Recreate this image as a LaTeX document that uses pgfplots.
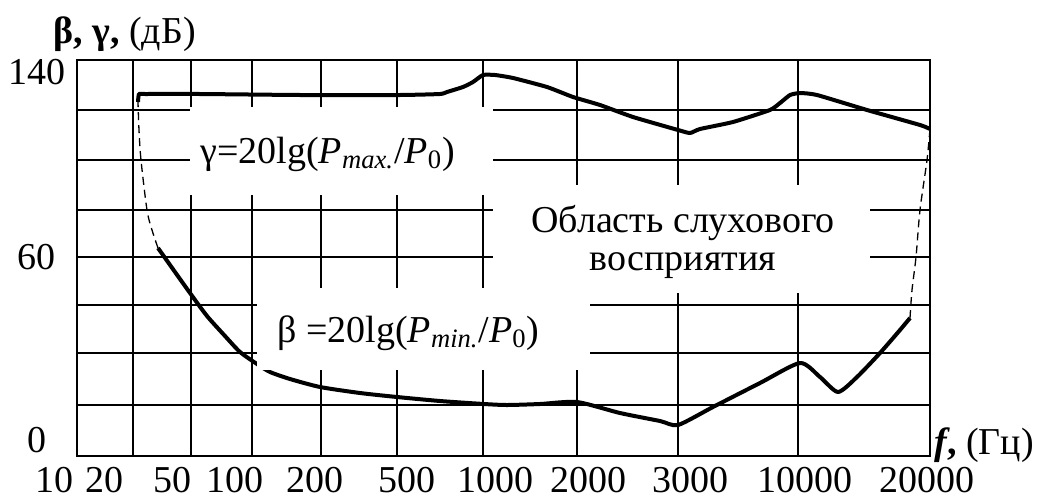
\documentclass[border=0pt]{standalone}
\usepackage{fontspec}
\setmainfont{Liberation Serif}
\usepackage{pgfplots}
\pgfplotsset{compat=1.18}

\newcommand{\fs}{\fontsize{19}{22}\selectfont}

\begin{document}
\begin{tikzpicture}
\begin{axis}[
  name=ax,
  scale only axis,
  width=426.5pt, height=198pt,
  xmin=77, xmax=930, ymin=0, ymax=396,
  clip=false,
  axis line style={line width=1pt},
  xtick={133,191,252,321,397,483,577,678,798},
  xticklabels={},
  ytick={51,103,151,199,246,296,346},
  yticklabels={},
  grid=major,
  major grid style={black, line width=0.85pt},
  major tick length=0pt,
  extra x ticks={77,105,172,235,315,407,495,588,690,805,927},
  extra x tick labels={\makebox[0pt][r]{10\hspace{1.75pt}},20,50,100,200,500,1000,2000,3000,10000,20000},
  extra y ticks={16,199,384},
  extra y tick labels={0,60,140},
  extra tick style={grid=none, major tick length=0pt},
  tick label style={font=\fs, inner sep=0pt},
  xticklabel style={anchor=center, yshift=-12pt},
  yticklabel style={anchor=center, xshift=-20pt},
]
% gamma, upper threshold
\addplot[black, line width=2pt, line join=round, smooth, tension=0.3] coordinates {
  (138,354) (139,362) (145,362) (200,362) (300,361) (400,361) (440,362)
  (447,364) (463,369) (473,374) (483,381) (495,381) (513,378) (547,369)
  (573,359) (600,351) (633,339) (678,326) (690,323) (700,327) (733,334)
  (770,346) (780,353) (790,361) (800,363) (817,361) (867,346) (920,331) (930,327)
};
% dashed closures
\addplot[black, line width=0.65pt, dash pattern=on 4pt off 2.5pt, smooth] coordinates {
  (158,208) (152,226) (147,246) (141,296) (139,326) (138,354)
};
\addplot[black, line width=0.65pt, dash pattern=on 4pt off 2.5pt, smooth] coordinates {
  (910,138) (912,166) (916,199) (920,246) (927,296) (930,327)
};
% white boxes behind the labels
\fill[white] (axis cs:190,261) rectangle (axis cs:493,349);
\fill[white] (axis cs:493,163) rectangle (axis cs:870,271);
% beta, lower threshold
\addplot[black, line width=2pt, line join=round, smooth, tension=0.4] coordinates {
  (158,208) (175,184) (190,163) (207,140) (225,120) (240,104) (257,92)
  (270,84) (290,77) (320,69) (360,63) (397,59) (440,55) (484,52) (507,51)
  (540,52) (577,54) (620,43) (660,35) (678,31) (713,49) (760,73) (800,93)
  (820,79) (838,64) (857,79) (880,103) (900,126) (910,138)
};
\fill[white] (axis cs:257,86) rectangle (axis cs:590,168);

\node[anchor=base west, font=\fs, inner sep=0pt] at (axis cs:200,293)
  {γ=20lg(\textit{P}\textsubscript{\textit{max.}}/\textit{P}\textsubscript{0})};
\node[anchor=base west, font=\fs, inner sep=0pt] at (axis cs:277,114)
  {β =20lg(\textit{P}\textsubscript{\textit{min.}}/\textit{P}\textsubscript{0})};
\node[anchor=base, font=\fs, inner sep=0pt] at (axis cs:683,224) {Область слухового};
\node[anchor=base, font=\fs, inner sep=0pt] at (axis cs:683,186) {восприятия};
\node[anchor=base west, font=\fs, inner sep=0pt] at (axis cs:53,413)
  {\textbf{β, γ,} (дБ)};
\node[anchor=base west, font=\fs, inner sep=0pt] at (axis cs:934,2)
  {\textbf{\textit{f},} (Гц)};
\end{axis}
\pgfresetboundingbox
\path[use as bounding box] (ax.south west) ++(-38.5pt,-22pt) rectangle ++(519pt,250pt);
\end{tikzpicture}
\end{document}
